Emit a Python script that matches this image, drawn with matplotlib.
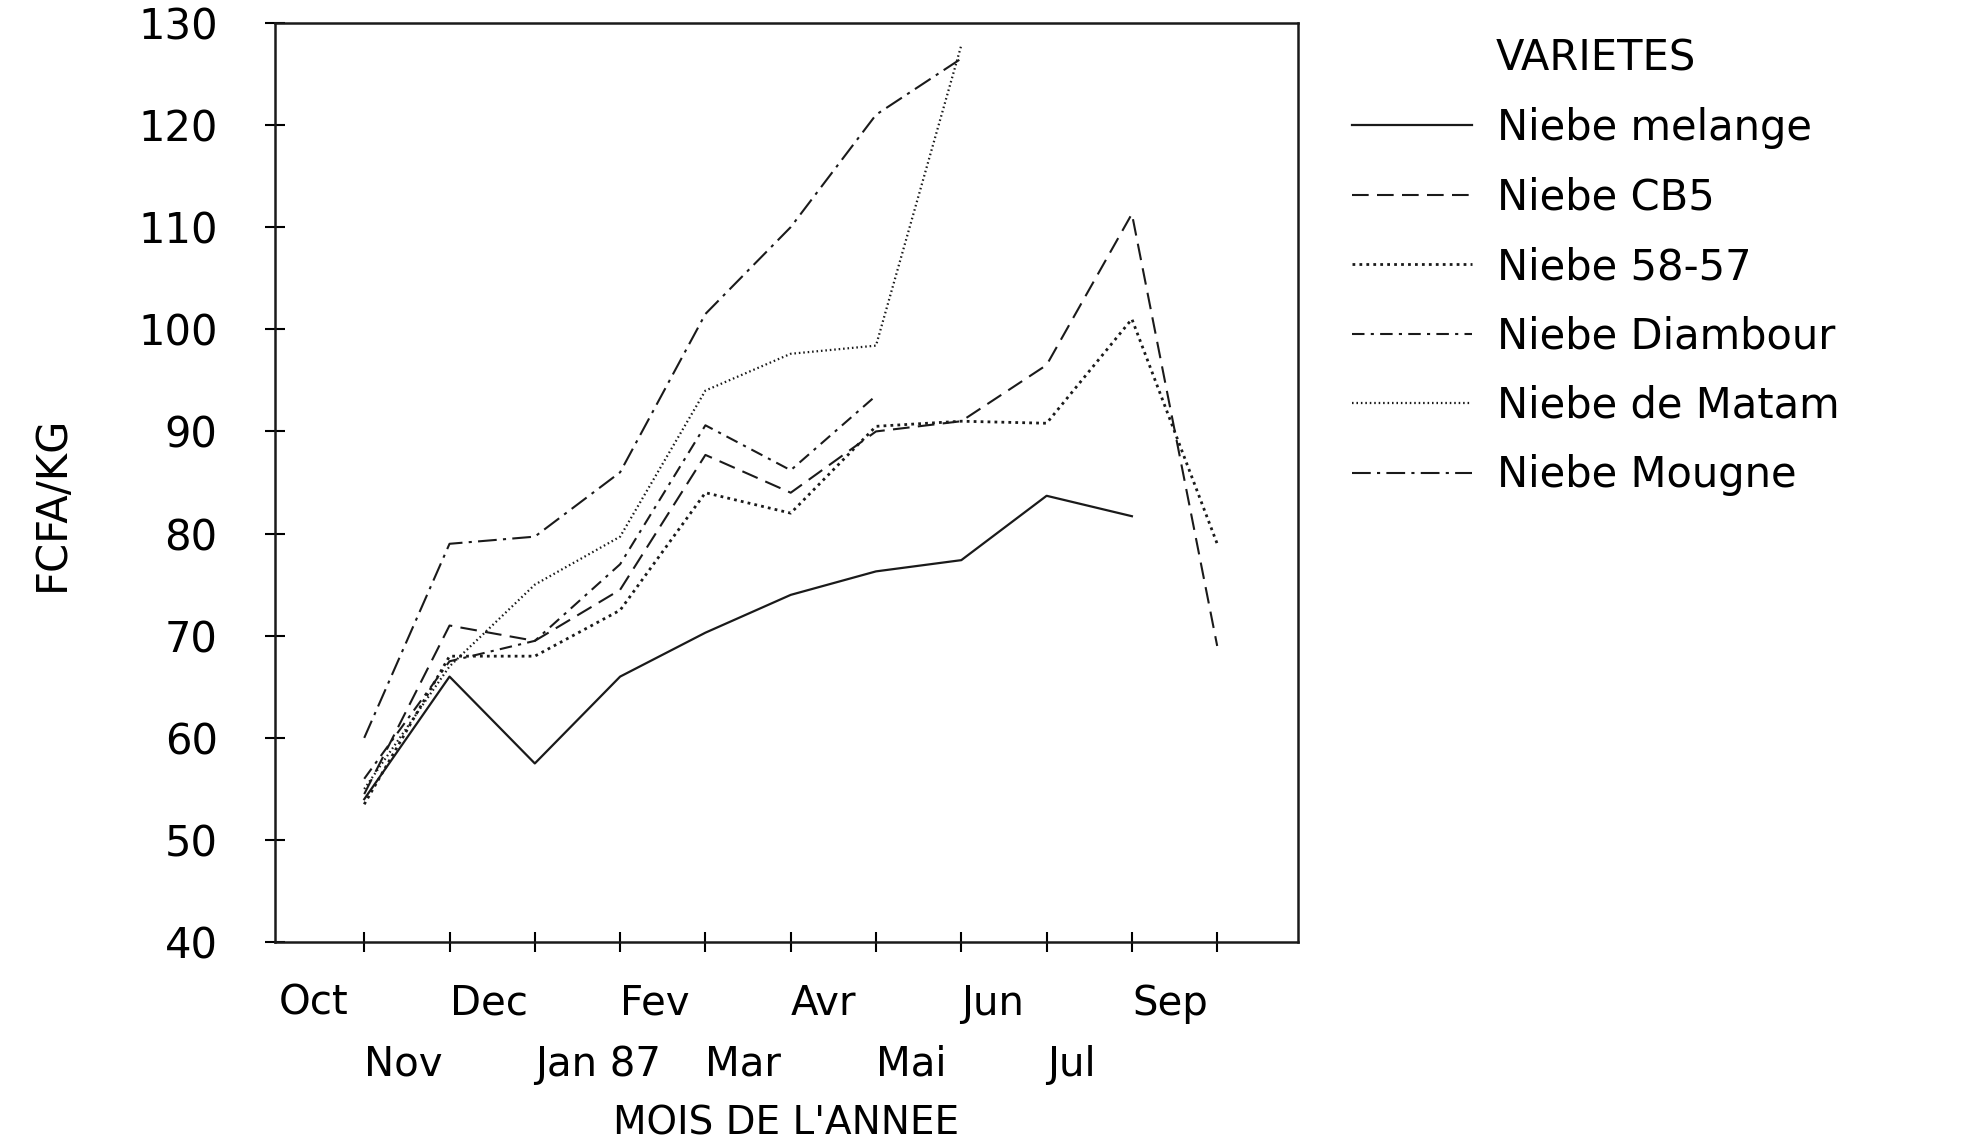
import numpy as np
import matplotlib
matplotlib.use("Agg")
import matplotlib.pyplot as plt

# --- data (FCFA/KG per month) ---
months = ["Oct", "Nov", "Dec", "Jan 87", "Fev", "Mar", "Avr", "Mai", "Jun", "Jul", "Sep"]
x = np.arange(11)
nan = np.nan

melange = [54, 66, 57.5, 66, 70.3, 74, 76.3, 77.4, 83.7, 81.7, nan]
cb5 = [54.5, 71, 69.5, 74.5, 87.7, 84, 90, 91, 96.5, 111.3, 69]
s5857 = [53.5, 68, 68, 72.5, 84, 82, 90.5, 91, 90.8, 101, 79]
diambour = [56, 67.5, 69.5, 77, 90.6, 86.2, 93.5, nan, nan, nan, nan]
matam = [55, 67, 75, 79.7, 94, 97.6, 98.4, 127.8, nan, nan, nan]
mougne = [60, 79, 79.7, 86, 101.5, 110, 121, 126.5, nan, nan, nan]

yticks = list(range(40, 131, 10))

plt.rcParams['font.family'] = ['DejaVu Sans']
fig = plt.figure(figsize=(19.76, 11.40), dpi=100)
ax = fig.add_axes([0.139, 0.1735, 0.518, 0.8065])

ink = "#1a1a1a"
ax.plot(x, melange, color=ink, lw=1.6, label="Niebe melange")
ax.plot(x, cb5, color=ink, lw=1.5, dashes=(8, 4), label="Niebe CB5")
ax.plot(x, s5857, color=ink, lw=2.0, dashes=(1.0, 1.5), label="Niebe 58-57")
ax.plot(x, diambour, color=ink, lw=1.5, dashes=(6, 3, 1.5, 3), label="Niebe Diambour")
ax.plot(x, matam, color=ink, lw=1.6, dashes=(0.7, 1.3), label="Niebe de Matam")
ax.plot(x, mougne, color=ink, lw=1.5, dashes=(9, 3, 1.5, 3), label="Niebe Mougne")

ax.set_xlim(-1.05, 10.95)
ax.set_ylim(40, 130)

# major ticks at the data months; month names start one step earlier,
# alternating between two rows
ax.xaxis.remove_overlapping_locs = False
ax.set_xticks(x)
ax.set_xticklabels([])
row1 = x[0::2]
row2 = x[1::2]
ax.set_xticks(row1 - 1, minor=True)
ax.set_xticklabels([months[i] for i in row1], minor=True, fontsize=29, ha="left")
ax.tick_params(axis="x", which="minor", length=0, pad=30)
ax.tick_params(axis="x", which="major", direction="inout", length=14, width=1.5)

sec = ax.secondary_xaxis("bottom")
sec.set_xticks(row2 - 1)
sec.set_xticklabels([months[i] for i in row2], fontsize=29, ha="left")
sec.tick_params(axis="x", length=0, pad=74)
sec.spines["bottom"].set_visible(False)

ax.set_yticks(yticks)
ax.set_yticklabels([str(v) for v in yticks], fontsize=30)
ax.tick_params(axis="y", direction="inout", length=14, width=1.5, pad=34)

for s in ax.spines.values():
    s.set_linewidth(1.8)
    s.set_color(ink)

ax.set_xlabel("MOIS DE L'ANNEE", fontsize=28)
ax.xaxis.set_label_coords(0.5, -0.176)
ax.set_ylabel("FCFA/KG", fontsize=30)
ax.yaxis.set_label_coords(-0.197, 0.477)

leg = ax.legend(title="VARIETES", loc="upper left", bbox_to_anchor=(0.665, 1.0),
                bbox_transform=fig.transFigure, frameon=False, fontsize=30,
                title_fontsize=30, handlelength=2.9, handletextpad=0.6,
                labelspacing=0.66)
leg._legend_box.align = "center"

fig.savefig("out.png", dpi=100)
